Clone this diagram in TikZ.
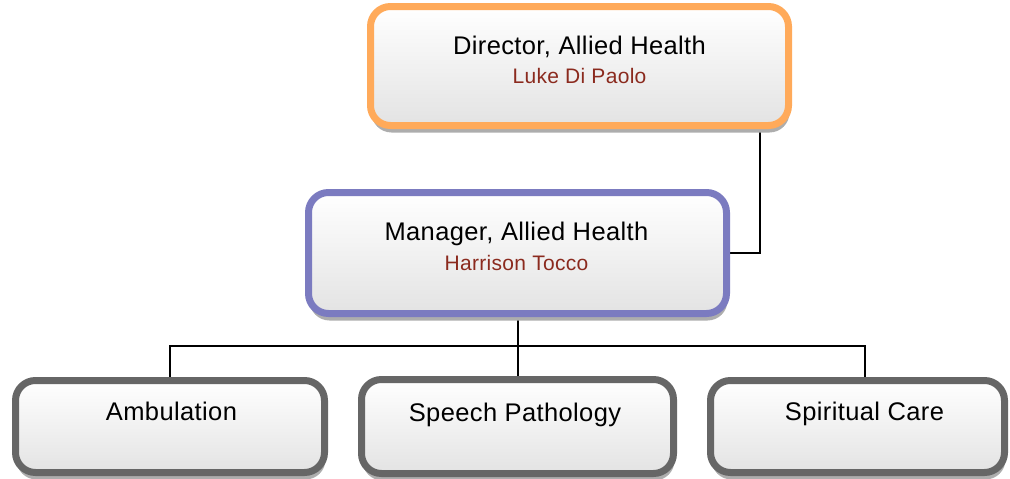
\documentclass[tikz,border=0pt]{standalone}
\usepackage{fontspec}
\setmainfont{Liberation Sans}[LetterSpace=1.5]
\usetikzlibrary{shadows,backgrounds}
\definecolor{dirorange}{HTML}{FFAA5A}
\definecolor{mgrpurple}{HTML}{7B7BC0}
\definecolor{unitgray}{HTML}{666666}
\definecolor{namered}{HTML}{8B2A1E}
\definecolor{shadowgray}{HTML}{ADADAD}
\tikzset{
  orgbox/.style={rectangle, rounded corners=20pt, line width=7pt, inner sep=0pt,
    top color=white, bottom color=black!11,
    drop shadow={shadow xshift=1pt, shadow yshift=-7pt, fill=shadowgray, opacity=1}},
  titletext/.style={anchor=base, inner sep=0pt, font=\fontsize{25.5}{30}\selectfont},
  nametext/.style={anchor=base, inner sep=0pt, text=namered, font=\fontsize{21}{25}\selectfont},
  conn/.style={draw=black, line width=2pt}
}
\begin{document}
\begin{tikzpicture}[x=1pt,y=-1pt]
\useasboundingbox (0,0) rectangle (1010,479);
% boxes
\node[orgbox, draw=dirorange, minimum width=418pt, minimum height=119pt] (dir) at (579.5,66) {};
\node[orgbox, draw=mgrpurple, minimum width=418pt, minimum height=121pt] (mgr) at (517.5,253) {};
\node[orgbox, draw=unitgray, minimum width=309pt, minimum height=92pt] (amb) at (170,426.5) {};
\node[orgbox, draw=unitgray, minimum width=312pt, minimum height=94pt] (sp) at (517.5,426.5) {};
\node[orgbox, draw=unitgray, minimum width=294pt, minimum height=92pt] (spi) at (857.5,426.5) {};
% connectors (behind the boxes)
\coordinate (bar) at (517.5,346);
\coordinate (dirdrop) at (760,0);
\coordinate (spidrop) at (865,0);
\coordinate (ambdrop) at (170,0);
\begin{scope}[on background layer]
\draw[conn] (dir.center -| dirdrop) |- (mgr.center);
\draw[conn] (mgr.center) -- (sp.center);
\draw[conn] (amb.center -| ambdrop) |- (bar) -| (spi.center -| spidrop);
\end{scope}
% texts
\node[titletext] (dirt) at (579.5,54) {Director, Allied Health};
\node[nametext] (dirn) at (579.5,83) {Luke Di Paolo};
\node[titletext] (mgrt) at (516.5,240) {Manager, Allied Health};
\node[nametext] (mgrn) at (516.5,270) {Harrison Tocco};
\node[titletext] (ambt) at (171.5,420) {Ambulation};
\node[titletext] (spt) at (515,421) {Speech Pathology};
\node[titletext] (spit) at (864.5,420) {Spiritual Care};
\end{tikzpicture}
\end{document}
